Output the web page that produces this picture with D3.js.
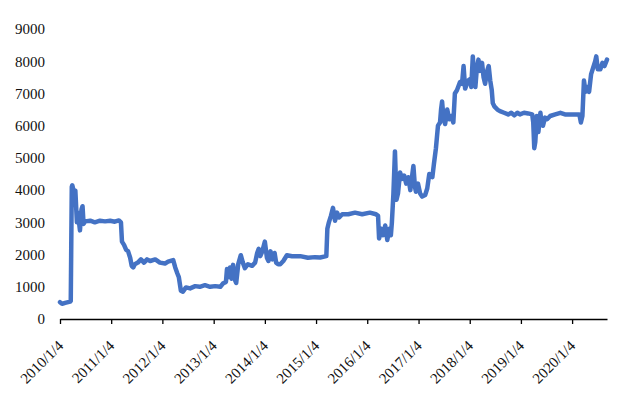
<!DOCTYPE html>
<html>
<head>
<meta charset="utf-8">
<script src="https://cdn.jsdelivr.net/npm/d3@7"></script>
<style>
  html, body { margin: 0; padding: 0; background: #fff; }
  svg { display: block; }
</style>
</head>
<body>
<svg id="chart" width="624" height="397"></svg>
<script>
// Decimal years elapsed since 2010/1/4
const years = [0.00,0.04,0.10,0.20,0.21,0.23,0.24,0.27,0.30,0.33,0.35,0.39,0.42,0.44,0.46,0.49,0.59,0.68,0.78,0.88,0.98,1.07,1.15,1.19,1.21,1.25,1.29,1.33,1.37,1.40,1.43,1.46,1.52,1.58,1.64,1.70,1.76,1.86,1.95,2.05,2.11,2.21,2.25,2.29,2.32,2.36,2.40,2.46,2.54,2.64,2.73,2.83,2.93,3.03,3.13,3.18,3.24,3.26,3.29,3.32,3.35,3.38,3.42,3.44,3.48,3.53,3.57,3.61,3.67,3.75,3.81,3.85,3.88,3.91,3.95,4.00,4.04,4.07,4.11,4.15,4.19,4.22,4.26,4.30,4.36,4.43,4.53,4.69,4.84,4.98,5.08,5.20,5.22,5.25,5.29,5.33,5.37,5.41,5.45,5.51,5.63,5.76,5.90,6.05,6.17,6.21,6.23,6.27,6.31,6.35,6.39,6.43,6.46,6.48,6.51,6.54,6.57,6.60,6.64,6.68,6.72,6.76,6.80,6.84,6.88,6.90,6.93,6.95,6.99,7.03,7.07,7.13,7.17,7.21,7.27,7.30,7.34,7.38,
  7.42,7.44,7.46,7.49,7.52,7.56,7.60,7.64,7.68,7.71,7.75,7.81,7.85,7.88,7.91,7.97,8.01,8.03,8.06,8.09,8.11,8.14,8.17,8.20,8.24,8.27,8.30,8.34,8.37,8.40,8.43,8.45,8.48,8.54,8.59,8.67,8.75,8.81,8.87,8.93,8.98,9.06,9.14,9.22,9.24,9.26,9.28,9.31,9.34,9.38,9.40,9.43,9.47,9.51,9.57,9.67,9.77,9.86,9.96,10.06,10.14,10.17,10.20,10.23,10.26,10.29,10.33,10.37,10.41,10.45,10.47,10.50,10.55,10.59,10.63,10.68];
const values = [520,470,500,540,560,4100,4150,3950,3980,3000,3300,2750,3400,3500,2950,3030,3050,3000,3050,3030,3050,3020,3060,3000,2400,2300,2150,2100,1900,1650,1600,1700,1750,1850,1750,1850,1800,1850,1750,1720,1780,1830,1600,1420,1300,880,850,980,950,1020,1000,1050,1000,1020,1000,1100,1150,1550,1300,1600,1250,1680,1200,1120,1700,1980,1750,1580,1700,1650,1750,2050,2180,1950,2100,2400,1900,1800,2100,1850,2050,1750,1700,1700,1800,1980,1950,1950,1900,1920,1910,1950,2800,3000,3200,3450,3050,3300,3150,3250,3250,3300,3250,3300,3250,3200,2500,2800,2600,2900,2450,2800,2600,3000,3900,5200,3700,3900,4550,4350,4450,4200,4400,4000,4500,4750,4100,3950,4200,3900,3800,3850,4050,4500,4400,4800,5300,6000,6100,6500,6750,6200,6050,6500,6200,6300,6100,7000,7100,7350,7300,7850,7150,7400,7450,7200,8150,7400,7200,7800,8050,7700,7950,7500,7300,7700,7850,7400,7100,6700,6600,6500,6450,6400,6350,6400,6320,6400,6350,6400,6380,6350,6100,5300,5500,6300,5800,6400,6100,6000,6250,6200,6300,6350,6400,6350,6350,6350,6350,6100,6300,7400,7050,7200,7050,7600,7800,8000,8150,7750,7750,7950,7850,8050];
const tickYears = [2010,2011,2012,2013,2014,2015,2016,2017,2018,2019,2020];
const yTicks = [0,1000,2000,3000,4000,5000,6000,7000,8000,9000];

const FONT = "'Liberation Serif', 'Times New Roman', 'DejaVu Serif', serif";
const start = new Date(2010, 0, 4);
const DAY = 86400000;
const toDate = f => new Date(start.getTime() + f * 365.25 * DAY);
const n = Math.min(years.length, values.length);
const data = d3.range(n).map(i => ({ date: toDate(years[i]), value: values[i] }));

const svg = d3.select("#chart");
const x = d3.scaleTime().domain([start, toDate(10.68)]).range([60, 607]);
const y = d3.scaleLinear().domain([0, 9000]).range([319, 29]);

// Y axis labels (no axis line)
const yAxis = svg.append("g").attr("transform", "translate(60,0)")
  .call(d3.axisLeft(y).tickValues(yTicks).tickSize(0).tickPadding(15).tickFormat(d3.format("d")));
yAxis.select(".domain").remove();
yAxis.selectAll("text").style("font-family", FONT).style("font-size", "15px").attr("fill", "#111");

// Line
const line = d3.line().x(d => x(d.date)).y(d => y(d.value));
svg.append("path").datum(data)
  .attr("d", line)
  .attr("fill", "none")
  .attr("stroke", "#4472C4")
  .attr("stroke-width", 4.5)
  .attr("stroke-linejoin", "round")
  .attr("stroke-linecap", "round");

// X axis
const xAxis = svg.append("g").attr("transform", "translate(0,319)")
  .call(d3.axisBottom(x)
    .tickValues(tickYears.map(yr => new Date(yr, 0, 4)))
    .tickSize(5).tickSizeOuter(0)
    .tickFormat(d => d.getFullYear() + "/1/4"));
xAxis.select(".domain").attr("stroke", "#000").attr("stroke-width", 1.3);
xAxis.selectAll(".tick line").attr("stroke", "#000").attr("stroke-width", 1.3);
xAxis.selectAll("text")
  .style("font-family", FONT).style("font-size", "15px").attr("fill", "#111")
  .attr("text-anchor", "end")
  .attr("dy", "0.35em")
  .attr("y", 0).attr("x", 0)
  .attr("transform", "translate(0,24) rotate(-45)");
</script>
</body>
</html>
